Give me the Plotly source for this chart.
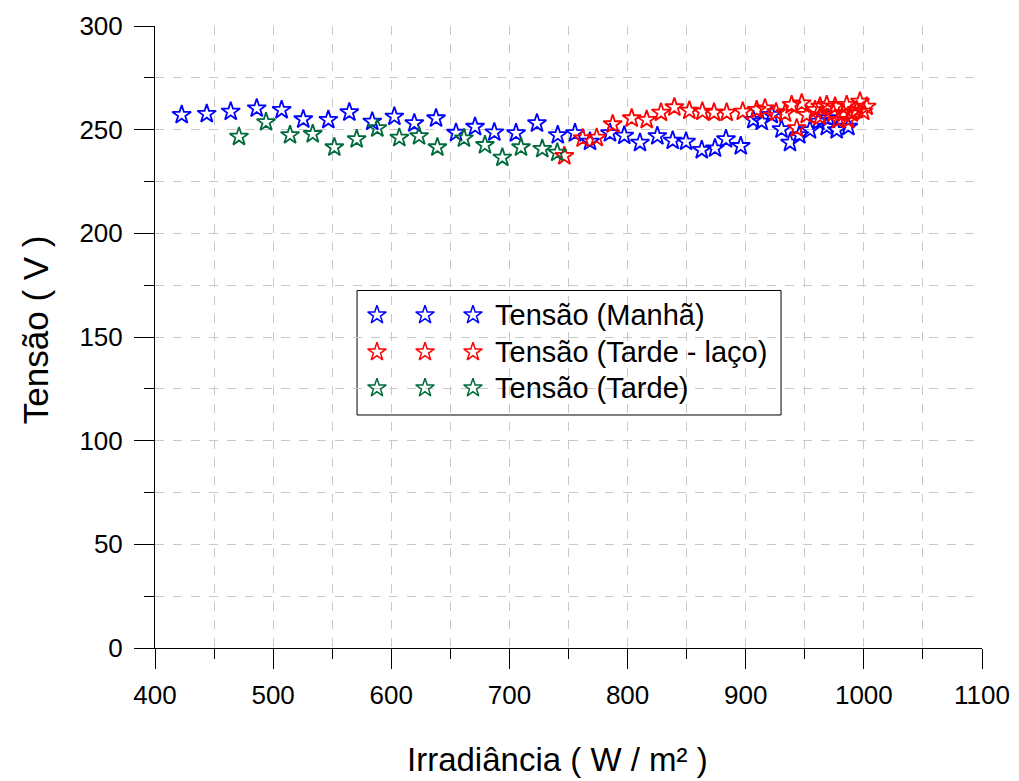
import plotly.graph_objects as go

# ---------------- data ----------------
manha_x = [422.6, 443.8, 464.1, 486.1, 507.2, 525.5, 546.7, 564.5, 583.9, 602.6,
           619.5, 637.9, 654.8, 670.9, 687.2, 705.6, 723.3, 740.9, 755.5, 768.2,
           785.1, 797.2, 810.5, 825.2, 838.2, 849.5, 862.8, 874.0, 883.3, 895.8,
           906.4, 913.5, 922.0, 930.3, 937.5, 945.4, 954.4, 961.5, 968.6, 969.9,
           977.0, 986.9]
manha_y = [257.1, 257.6, 258.7, 260.3, 259.5, 255.0, 254.7, 258.4, 253.9, 256.3,
           253.1, 255.5, 248.5, 251.4, 248.7, 248.3, 253.1, 247.4, 248.3, 244.2,
           248.3, 247.1, 243.7, 246.9, 244.7, 244.2, 240.2, 241.0, 245.4, 242.1,
           254.7, 253.9, 257.1, 250.2, 243.7, 247.4, 249.8, 253.9, 251.4, 255.5,
           249.8, 251.4]

laco_x = [746.5, 762.0, 773.9, 787.4, 803.5, 816.2, 828.3, 839.6, 852.3, 863.3,
          873.2, 883.9, 897.5, 909.3, 916.3, 925.7, 933.3, 938.9, 947.4, 951.6,
          943.2, 958.7, 962.9, 968.6, 975.6, 985.5, 996.7, 1002.4, 962.9, 974.1,
          982.6, 989.7, 993.9, 999.5, 978.3, 986.8]
laco_y = [237.3, 245.8, 246.1, 252.6, 255.5, 254.7, 258.2, 260.8, 259.2, 258.7,
          258.2, 258.2, 258.7, 259.5, 260.3, 258.4, 257.9, 261.9, 262.7, 257.1,
          250.7, 259.5, 261.1, 261.9, 261.1, 261.9, 263.5, 261.1, 256.3, 257.9,
          257.9, 257.9, 259.5, 258.7, 254.7, 254.7]

tarde_x = [471.1, 494.0, 514.3, 533.5, 551.8, 570.7, 588.2, 606.8, 623.5, 639.0,
           661.5, 679.3, 694.0, 709.8, 727.8, 740.5]
tarde_y = [246.6, 253.6, 247.4, 247.9, 241.5, 245.4, 250.7, 246.1, 246.9, 241.5,
           245.8, 242.6, 236.5, 241.5, 240.7, 238.9]

series_names = ["Tensão (Manhã)", "Tensão (Tarde - laço)", "Tensão (Tarde)"]
series_colors = ["#0000FF", "#FF0000", "#006B3C"]

x_ticks = [400, 500, 600, 700, 800, 900, 1000, 1100]
y_ticks = [0, 50, 100, 150, 200, 250, 300]

# legend sample layout (paper coordinates)
legend_sample_x = [0.2684, 0.3265, 0.3845]
legend_row_y = [0.5354, 0.4759, 0.4180]
legend_text_x = 0.4087
legend_box = dict(x0=0.2443, x1=0.757, y0=0.3746, y1=0.5748)

FONT = "Liberation Sans, Arial, sans-serif"
MSIZE = 14
MLINE = 1.8

fig = go.Figure()
for xs, ys, name, col in zip([manha_x, laco_x, tarde_x], [manha_y, laco_y, tarde_y],
                             series_names, series_colors):
    fig.add_trace(go.Scatter(
        x=xs, y=ys, mode="markers", name=name, showlegend=False,
        marker=dict(symbol="star-open", size=MSIZE, color=col,
                    line=dict(width=MLINE, color=col)),
    ))

# custom legend (three sample stars per row, as in original)
for ry, name, col in zip(legend_row_y, series_names, series_colors):
    fig.add_trace(go.Scatter(
        x=legend_sample_x, y=[ry] * len(legend_sample_x), mode="markers",
        xaxis="x2", yaxis="y2", showlegend=False, hoverinfo="skip",
        marker=dict(symbol="star-open", size=MSIZE, color=col,
                    line=dict(width=1.5, color=col)),
    ))
    fig.add_annotation(x=legend_text_x, y=ry, xref="paper", yref="paper",
                       text=name, showarrow=False, xanchor="left", yanchor="middle",
                       font=dict(family=FONT, size=29, color="black"))

fig.add_shape(type="rect", xref="paper", yref="paper", layer="below",
              fillcolor="white", line=dict(color="black", width=1), **legend_box)

grid_col = "#C8C8C8"
fig.update_layout(
    width=1019, height=781,
    margin=dict(l=155, r=37, t=26, b=133),
    paper_bgcolor="white", plot_bgcolor="white",
    font=dict(family=FONT, size=26, color="black"),
    showlegend=False,
    xaxis=dict(
        range=[400, 1100], tickvals=x_ticks, ticktext=[str(v) for v in x_ticks],
        showline=True, linecolor="black", linewidth=1, automargin=False,
        ticks="outside", ticklen=20, tickcolor="black", tickwidth=1,
        showgrid=True, gridcolor=grid_col, griddash="dash", gridwidth=1,
        zeroline=False, tickfont=dict(size=26),
        minor=dict(dtick=50, tick0=400, ticks="outside", ticklen=10, tickcolor="black",
                   showgrid=True, gridcolor=grid_col, griddash="dash", gridwidth=1),
        ticklabelstandoff=4,
    ),
    yaxis=dict(
        range=[0, 300], tickvals=y_ticks, ticktext=[str(v) for v in y_ticks],
        showline=True, linecolor="black", linewidth=1, automargin=False,
        ticks="outside", ticklen=20, tickcolor="black", tickwidth=1,
        showgrid=True, gridcolor=grid_col, griddash="dash", gridwidth=1,
        zeroline=False, tickfont=dict(size=26),
        minor=dict(dtick=25, tick0=0, ticks="outside", ticklen=10, tickcolor="black",
                   showgrid=True, gridcolor=grid_col, griddash="dash", gridwidth=1),
        ticklabelstandoff=6,
    ),
    xaxis2=dict(range=[0, 1], overlaying="x", visible=False, fixedrange=True),
    yaxis2=dict(range=[0, 1], overlaying="y", visible=False, fixedrange=True),
)

fig.add_annotation(x=0.487, y=-0.2106, xref="paper", yref="paper",
                   text="Irradiância ( W / m² )", showarrow=False,
                   xanchor="center", yanchor="bottom", borderpad=0,
                   font=dict(family=FONT, size=33, color="black"))
fig.add_annotation(x=-0.1451, y=0.511, xref="paper", yref="paper",
                   text="Tensão ( V )", showarrow=False, textangle=-90,
                   xanchor="center", yanchor="middle",
                   font=dict(family=FONT, size=35, color="black"))

fig.write_html("out.html")
